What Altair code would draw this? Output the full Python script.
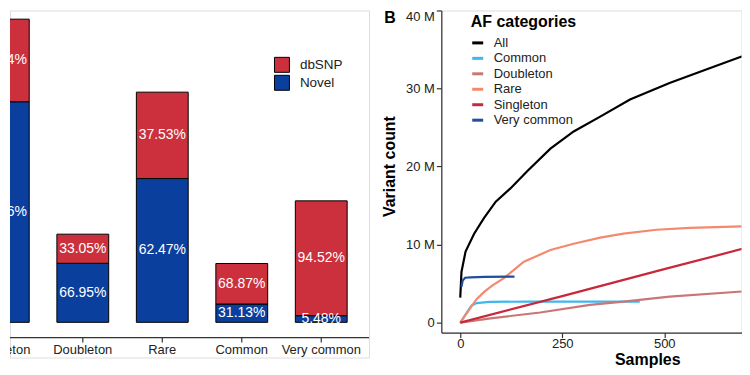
import altair as alt
import pandas as pd

# ---------------- Panel A data ----------------
categories = ["Singleton", "Doubleton", "Rare", "Common", "Very common"]
totals_m = [15.2, 4.42, 11.54, 2.95, 6.09]
dbsnp_pct = [27.24, 33.05, 37.53, 68.87, 94.52]
novel_pct = [72.76, 66.95, 62.47, 31.13, 5.48]

# ---------------- Panel B data ----------------
all_samples = [0, 3, 13, 34, 58, 87, 123, 164, 221, 278, 343, 416, 513, 611, 710]
all_values = [3.2, 6.5, 9.1, 11.4, 13.4, 15.5, 17.2, 19.4, 22.3, 24.5, 26.4, 28.6, 30.7, 32.6, 34.5]
common_samples = [0, 10, 20, 28, 40, 72, 160, 300, 440]
common_values = [0, 0.8, 1.6, 2.2, 2.5, 2.65, 2.7, 2.7, 2.68]
doubleton_samples = [0, 74, 196, 318, 400, 513, 710]
doubleton_values = [0, 0.55, 1.3, 2.27, 2.7, 3.33, 4.06]
rare_samples = [0, 20, 40, 60, 80, 107, 156, 221, 278, 343, 400, 481, 562, 710]
rare_values = [0, 1.5, 3.0, 4.0, 4.8, 5.7, 7.8, 9.3, 10.1, 10.9, 11.4, 11.9, 12.15, 12.35]
singleton_samples = [0, 250, 500, 710]
singleton_values = [0, 3.4, 6.85, 9.7]
verycommon_samples = [3, 6, 12, 25, 60, 133]
verycommon_values = [4.6, 5.4, 5.75, 5.8, 5.85, 5.9]

af_names = ["All", "Common", "Doubleton", "Rare", "Singleton", "Very common"]
af_colors = ["#000000", "#3DB7EE", "#C97676", "#F4896F", "#C8283A", "#1F4E9C"]
panel_tag = ["B"]

RED = "#CB303C"
BLUE = "#0B3F9E"
FONT = "Liberation Sans"

# ---------------- Panel A chart ----------------
rows = []
for i, (c, t, d, n) in enumerate(zip(categories, totals_m, dbsnp_pct, novel_pct)):
    nov = t * n / 100.0
    rows.append(dict(cat=c, idx=i, type="Novel", lo=0.0, hi=nov, pct=n))
    rows.append(dict(cat=c, idx=i, type="dbSNP", lo=nov, hi=t, pct=d))
bars_df = pd.DataFrame(rows)
bars_df["mid"] = (bars_df["lo"] + bars_df["hi"]) / 2
bars_df["label"] = bars_df["pct"].map(lambda v: f"{v:.2f}%")
cat_df = pd.DataFrame({"cat": categories, "idx": list(range(len(categories)))})
one_df = pd.DataFrame({"a": [0]})

HALF = 0.326
xs = alt.Scale(domain=[0.084, 4.601], nice=False, zero=False)
ys = alt.Scale(domain=[-1.765, 15.635], nice=False, zero=False)

base = alt.Chart(bars_df).transform_calculate(
    xa=f"datum.idx - {HALF}", xb=f"datum.idx + {HALF}"
)
bars = base.mark_rect(stroke="black", strokeWidth=1, clip=True).encode(
    x=alt.X("xa:Q", scale=xs, axis=None),
    x2="xb:Q",
    y=alt.Y("lo:Q", scale=ys, axis=None),
    y2="hi:Q",
    color=alt.Color(
        "type:N",
        scale=alt.Scale(domain=["dbSNP", "Novel"], range=[RED, BLUE]),
        legend=alt.Legend(
            title=None, orient="none", legendX=264.7, legendY=46.5,
            symbolType="square", symbolSize=225, symbolStrokeColor="black",
            symbolStrokeWidth=1, symbolOpacity=1, labelFontSize=13.5,
            labelOffset=10, rowPadding=-4, labelColor="#222",
        ),
    ),
)
bar_text = base.mark_text(color="white", fontSize=14, clip=True).encode(
    x=alt.X("idx:Q", scale=xs, axis=None),
    y=alt.Y("mid:Q", scale=ys, axis=None),
    text="label:N",
)
axis_line = alt.Chart(one_df).mark_rule(color="#333", strokeWidth=1.2).encode(
    x=alt.value(0), x2=alt.value(360), y=alt.value(328)
)
ticks = alt.Chart(cat_df).mark_rule(color="#333", strokeWidth=1.2, clip=True).encode(
    x=alt.X("idx:Q", scale=xs, axis=None), y=alt.value(328), y2=alt.value(333)
)
tick_labels = alt.Chart(cat_df).mark_text(
    fontSize=13, color="#222", baseline="middle", clip=True
).encode(
    x=alt.X("idx:Q", scale=xs, axis=None), y=alt.value(340), text="cat:N"
)
left = alt.layer(bars, bar_text, axis_line, ticks, tick_labels).properties(
    width=360, height=348
)

# ---------------- Panel B chart ----------------
series = [
    ("All", all_samples, all_values),
    ("Common", common_samples, common_values),
    ("Doubleton", doubleton_samples, doubleton_values),
    ("Rare", rare_samples, rare_values),
    ("Singleton", singleton_samples, singleton_values),
    ("Very common", verycommon_samples, verycommon_values),
]
lrows = []
for name, sx, sy in series:
    for a, b in zip(sx, sy):
        lrows.append(dict(cat=name, samples=a, count=b))
lines_df = pd.DataFrame(lrows)

lines = alt.Chart(lines_df).mark_line(clip=True, strokeWidth=2.2).encode(
    x=alt.X(
        "samples:Q",
        scale=alt.Scale(domain=[-46.4, 689.3], nice=False, zero=False),
        axis=alt.Axis(
            values=[0, 250, 500], title="Samples", titleFontSize=16,
            titleFontWeight="bold", titleColor="black", titleX=206.5, titleY=32,
            titleBaseline="alphabetic", labelFontSize=13, labelColor="#222",
            tickSize=5, tickColor="#333", tickWidth=1.2, domainColor="#333",
            domainWidth=1.2, grid=False, labelPadding=0, labelFlush=False,
        ),
    ),
    y=alt.Y(
        "count:Q",
        scale=alt.Scale(domain=[-1.28, 40], nice=False, zero=False),
        axis=alt.Axis(
            values=[0, 10, 20, 30, 40],
            labelExpr="datum.value == 0 ? '0' : datum.value + ' M'",
            labelFlush=1, labelFlushOffset=0,
            title="Variant count", titleFontSize=16, titleFontWeight="bold",
            titleColor="black", titleX=-51.5, titleY=156, titleBaseline="middle",
            titleAlign="center", labelFontSize=13, labelColor="#222", tickSize=5,
            tickColor="#333", tickWidth=1.2, domainColor="#333", domainWidth=1.2,
            grid=False, labelPadding=2,
        ),
    ),
    color=alt.Color(
        "cat:N",
        scale=alt.Scale(domain=af_names, range=af_colors),
        legend=alt.Legend(
            title="AF categories", orient="none", legendX=29.5, legendY=3.5,
            titleFontSize=16, titleFontWeight="bold", titleColor="black",
            titlePadding=6, labelFontSize=13, labelColor="#222",
            symbolType="stroke", symbolStrokeWidth=3, symbolSize=121,
            labelOffset=9, rowPadding=1.5,
        ),
    ),
)
tag = alt.Chart(pd.DataFrame({"tag": panel_tag})).mark_text(
    fontSize=16, fontWeight="bold", align="left", baseline="top", color="black"
).encode(text="tag:N", x=alt.value(-57.2), y=alt.value(0))

right = alt.layer(lines, tag).properties(width=301, height=323)

chart = (
    alt.hconcat(left, right, spacing=72.5, bounds="flush")
    .resolve_scale(color="independent", x="independent", y="independent")
    .properties(padding=0)
    .configure_view(stroke=None)
    .configure(font=FONT)
)

chart.save("out.html", embed_options={"renderer": "svg", "actions": False})
